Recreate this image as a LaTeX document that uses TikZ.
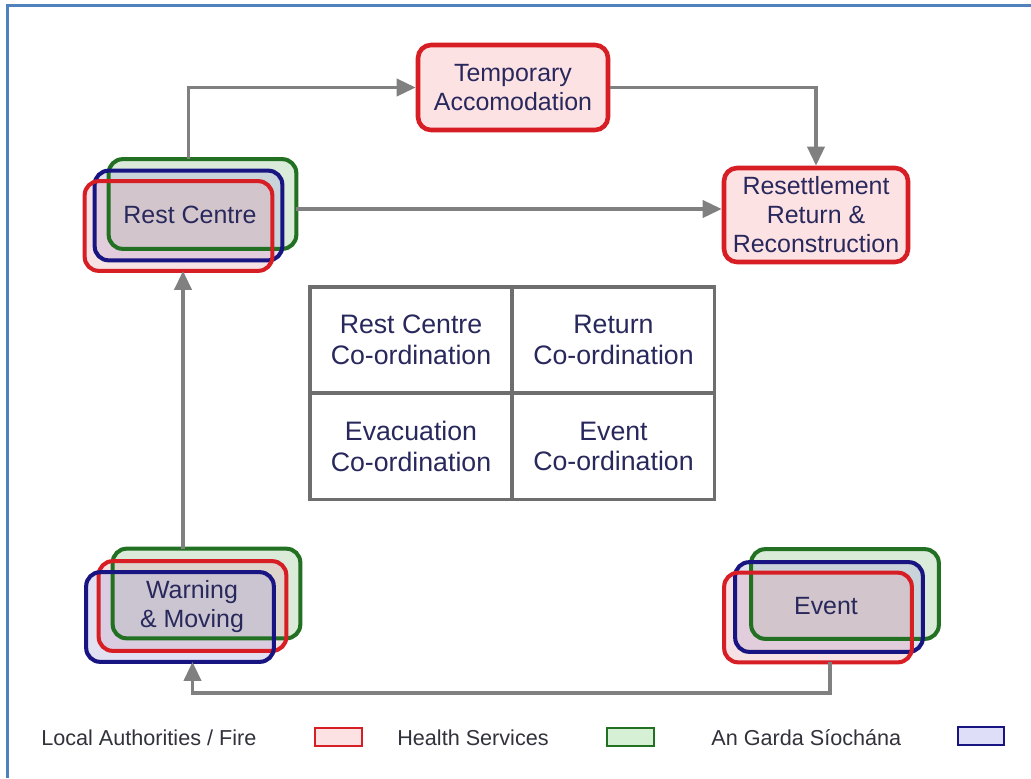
\documentclass[tikz,border=0pt]{standalone}
\usepackage{fontspec}
\setmainfont{Liberation Sans}
\usetikzlibrary{arrows.meta}
\definecolor{frameblue}{RGB}{79,129,189}
\definecolor{boxred}{RGB}{214,30,36}
\definecolor{boxgreen}{RGB}{34,112,34}
\definecolor{boxblue}{RGB}{24,20,130}
\definecolor{pinkfill}{RGB}{253,226,228}
\definecolor{txt}{RGB}{40,40,92}
\definecolor{legtxt}{RGB}{50,50,60}
\definecolor{arrowgray}{RGB}{128,128,128}
\definecolor{gridgray}{RGB}{110,110,110}
\definecolor{fillg}{RGB}{150,200,150}
\definecolor{fillb}{RGB}{170,170,220}
\definecolor{fillr}{RGB}{230,170,180}
\definecolor{swg}{RGB}{214,240,214}
\definecolor{swb}{RGB}{222,222,248}
\begin{document}
\begin{tikzpicture}[x=0.02cm,y=-0.02cm,
  stackbox/.style={rectangle, minimum width=3.74cm, minimum height=1.78cm, inner sep=0pt},
  gbox/.style={stackbox, fill=fillg, fill opacity=0.35, rounded corners=0.28cm},
  bbox/.style={stackbox, fill=fillb, fill opacity=0.35, rounded corners=0.28cm},
  rbox/.style={stackbox, fill=fillr, fill opacity=0.35, rounded corners=0.28cm},
  rim/.style={line width=2.3pt, rounded corners=0.28cm},
  single/.style={rectangle, rounded corners=0.26cm, line width=2.6pt, draw=boxred, fill=pinkfill, inner sep=0pt, text=txt, font=\fontsize{14.2}{16.5}\selectfont, align=center},
  lbl/.style={text=txt, font=\fontsize{14.2}{16.5}\selectfont, align=center, inner sep=0pt},
  arr/.style={draw=arrowgray, line width=2.1pt, -{Triangle[length=0.38cm,width=0.34cm]}},
  cell/.style={rectangle, draw=gridgray, line width=1.8pt, minimum width=4.04cm, minimum height=2.12cm, inner sep=0pt, text=txt, font=\fontsize{15.2}{17.5}\selectfont, align=center},
  swatch/.style={rectangle, minimum width=0.93cm, minimum height=0.36cm, inner sep=0pt, line width=1.3pt},
  legend/.style={anchor=base west, text=legtxt, font=\fontsize{12.3}{14}\selectfont, inner sep=0pt}
]
\useasboundingbox (0,0) rectangle (1031,778);
\fill[white] (0,0) rectangle (1031,778);
% frame
\draw[frameblue, line width=1.5pt] (7.5,778) -- (7.5,5.5) -- (1031,5.5);

% single boxes
\node[single, minimum width=3.8cm, minimum height=1.7cm] (ta) at (513,87.5) {Temporary\\Accomodation};
\node[single, minimum width=3.68cm, minimum height=1.88cm] (rr) at (816,215) {Resettlement\\Return \&\\Reconstruction};

% Rest Centre stack
\node[gbox] (rc-g) at (202.5,204) {};
\node[bbox] (rc-b) at (188.5,215.5) {};
\node[rbox] (rc-r) at (178.5,226) {};
\draw[rim, boxgreen] (rc-g.north west) rectangle (rc-g.south east);
\draw[rim, boxblue] (rc-b.north west) rectangle (rc-b.south east);
\draw[rim, boxred] (rc-r.north west) rectangle (rc-r.south east);
\node[lbl] (rc) at (190,215) {Rest Centre};

% Warning & Moving stack
\node[gbox] (wm-g) at (206.5,593.5) {};
\node[rbox] (wm-r) at (192.5,606) {};
\node[bbox] (wm-b) at (180,617) {};
\draw[rim, boxgreen] (wm-g.north west) rectangle (wm-g.south east);
\draw[rim, boxred] (wm-r.north west) rectangle (wm-r.south east);
\draw[rim, boxblue] (wm-b.north west) rectangle (wm-b.south east);
\node[lbl] (wm) at (192,607) {Warning\\\& Moving};

% Event stack
\node[gbox] (ev-g) at (845,594) {};
\node[bbox] (ev-b) at (829,607) {};
\node[rbox] (ev-r) at (818,617.5) {};
\draw[rim, boxgreen] (ev-g.north west) rectangle (ev-g.south east);
\draw[rim, boxblue] (ev-b.north west) rectangle (ev-b.south east);
\draw[rim, boxred] (ev-r.north west) rectangle (ev-r.south east);
\node[lbl] (ev) at (826,606) {Event};

% grid
\node[cell] (c11) at (411,340) {Rest Centre\\Co-ordination};
\node[cell] (c12) at (613.5,340) {Return\\Co-ordination};
\node[cell] (c21) at (411,446.5) {Evacuation\\Co-ordination};
\node[cell] (c22) at (613.5,446.5) {Event\\Co-ordination};

% connectors
\draw[arr] (rc-b.north |- rc-g.north) |- (ta.west);
\draw[arr] (ta.east) -| (rr.north);
\coordinate (a3) at ([yshift=0.12cm]rr.west);
\draw[arr] (rc-g.east |- a3) -- (a3);
\coordinate (a4) at ([xshift=0.09cm]rc-r.south);
\draw[arr] (wm-g.north -| a4) -- (a4);
\coordinate (bot) at (830,693);
\coordinate (a5) at (wm-r.south |- wm-b.south);
\draw[arr] (bot |- ev-r.south) -- (bot) -| (a5);

% legend
\node[legend] (l1) at (41,745) {Local Authorities / Fire};
\node[swatch, draw=boxred, fill=pinkfill] (s1) at (338.5,737) {};
\node[legend] (l2) at (397,745) {Health Services};
\node[swatch, draw=boxgreen, fill=swg] (s2) at (630.5,737) {};
\node[legend] (l3) at (711,745) {An Garda Síochána};
\node[swatch, draw=boxblue, fill=swb] (s3) at (981,736) {};
\end{tikzpicture}
\end{document}
